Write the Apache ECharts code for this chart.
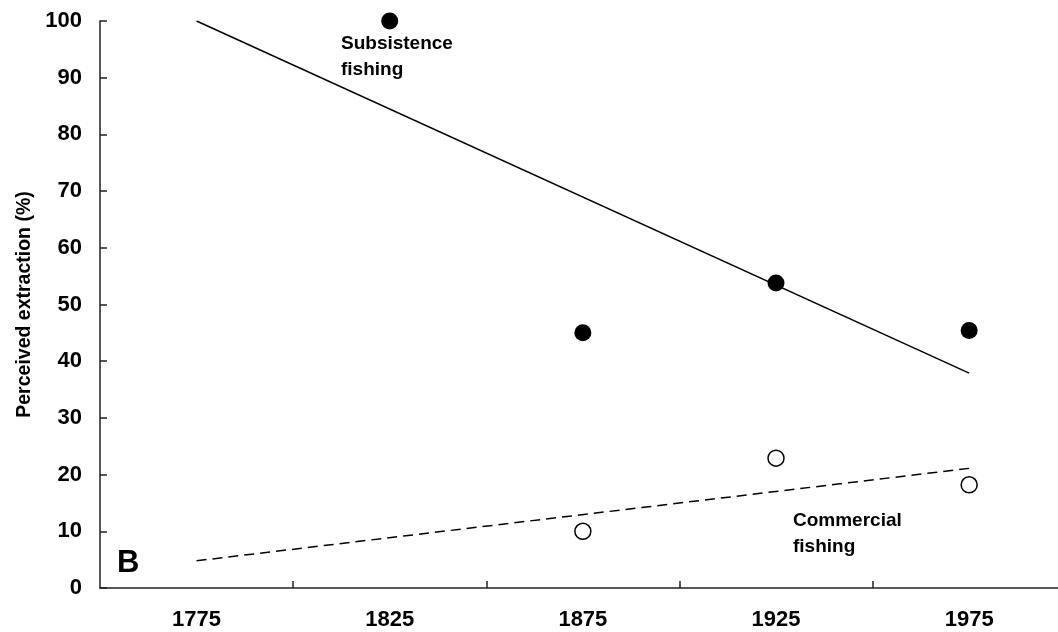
<!DOCTYPE html>
<html>
<head>
<meta charset="utf-8">
<script src="https://cdn.jsdelivr.net/npm/echarts@6/dist/echarts.min.js"></script>
<style>html,body{margin:0;padding:0;background:#fff}#c{width:1058px;height:632px}</style>
</head>
<body>
<div id="c"></div>
<script>
// Data
const subsistenceYears = [1825, 1875, 1925, 1975];
const subsistenceValues = [100, 45, 53.8, 45.4];
const commercialYears = [1875, 1925, 1975];
const commercialValues = [10, 22.9, 18.2];
const subsistenceTrend = [[1775, 100], [1975, 37.9]];
const commercialTrend = [[1775, 4.8], [1975, 21.1]];
const xTickLabels = [1775, 1825, 1875, 1925, 1975];
const xTickMarks = [1800, 1850, 1900, 1950];
const yAxisTitle = 'Perceived extraction (%)';
const panelLetter = 'B';
const subsistenceLabel = 'Subsistence\nfishing';
const commercialLabel = 'Commercial\nfishing';

const font = '"Liberation Sans", Arial, sans-serif';
const chart = echarts.init(document.getElementById('c'));
chart.setOption({
  animation: false,
  backgroundColor: '#fff',
  grid: { left: 100, right: 0, top: 21, bottom: 44 },
  xAxis: {
    type: 'value', min: 1750, max: 1998,
    axisLine: { show: true, lineStyle: { color: '#222', width: 1.5 } },
    axisTick: { show: true, inside: true, length: 7, customValues: xTickMarks, lineStyle: { color: '#222', width: 1.5 } },
    axisLabel: { customValues: xTickLabels, formatter: v => String(v), margin: 21, fontSize: 22, fontWeight: 'bold', color: '#000', fontFamily: font },
    splitLine: { show: false }
  },
  yAxis: {
    type: 'value', min: 0, max: 100, interval: 10,
    name: yAxisTitle, nameLocation: 'middle', nameGap: 64, nameRotate: 90,
    nameTextStyle: { fontSize: 19.5, fontWeight: 'bold', color: '#000', fontFamily: font },
    axisLine: { show: true, lineStyle: { color: '#222', width: 1.5 } },
    axisTick: { show: true, inside: true, length: 7, lineStyle: { color: '#222', width: 1.5 } },
    axisLabel: { margin: 18, fontSize: 22, fontWeight: 'bold', color: '#000', fontFamily: font },
    splitLine: { show: false }
  },
  series: [
    { type: 'line', data: subsistenceTrend, showSymbol: false, lineStyle: { color: '#000', width: 1.5 }, z: 1 },
    { type: 'line', data: commercialTrend, showSymbol: false, lineStyle: { color: '#000', width: 1.5, type: [10, 6] }, z: 1 },
    { type: 'scatter', data: subsistenceYears.map((y, i) => [y, subsistenceValues[i]]), symbolSize: 17,
      itemStyle: { color: '#000', opacity: 1 }, z: 3 },
    { type: 'scatter', data: commercialYears.map((y, i) => [y, commercialValues[i]]), symbolSize: 16,
      itemStyle: { color: '#fff', borderColor: '#000', borderWidth: 1.5, opacity: 1 }, z: 3 }
  ],
  graphic: [
    { type: 'text', left: 117, top: 548, style: { text: panelLetter, fontSize: 31, fontWeight: 'bold', fill: '#000', fontFamily: font } },
    { type: 'text', left: 341, top: 31, style: { text: subsistenceLabel, fontSize: 19, fontWeight: 'bold', fill: '#000', fontFamily: font, lineHeight: 26 } },
    { type: 'text', left: 793, top: 508, style: { text: commercialLabel, fontSize: 19, fontWeight: 'bold', fill: '#000', fontFamily: font, lineHeight: 26 } }
  ]
});
</script>
</body>
</html>
